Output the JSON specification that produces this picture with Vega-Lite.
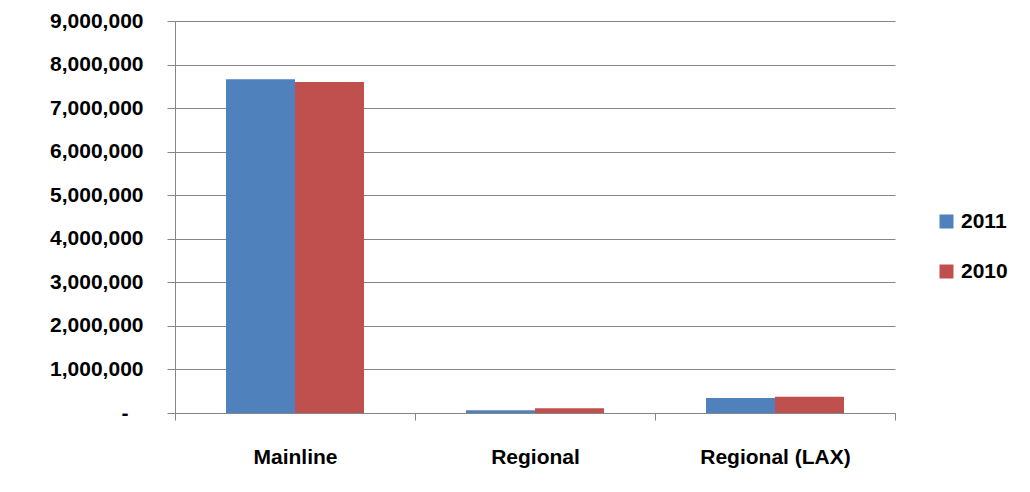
{
  "$schema": "https://vega.github.io/schema/vega-lite/v6.json",
  "autosize": {"type": "none"},
  "width": 720,
  "height": 392,
  "padding": {"left": 175, "top": 21, "right": 135, "bottom": 79},
  "background": "white",
  "data": {"values": [
    {"category": "Mainline", "year": "2011", "value": 7660000},
    {"category": "Mainline", "year": "2010", "value": 7600000},
    {"category": "Regional", "year": "2011", "value": 62000},
    {"category": "Regional", "year": "2010", "value": 108000},
    {"category": "Regional (LAX)", "year": "2011", "value": 344000},
    {"category": "Regional (LAX)", "year": "2010", "value": 374000}
  ]},
  "config": {
    "view": {"stroke": null},
    "font": "Liberation Sans",
    "axis": {"labelFont": "Liberation Sans", "labelFontWeight": "bold", "labelFontSize": 21, "labelColor": "black", "domainColor": "#868686", "tickColor": "#868686", "gridColor": "#868686", "domainWidth": 1, "tickWidth": 1, "gridWidth": 1}
  },
  "mark": {"type": "bar"},
  "encoding": {
    "x": {
      "field": "category", "type": "nominal", "sort": ["Mainline", "Regional", "Regional (LAX)"],
      "scale": {"paddingInner": 0, "paddingOuter": 0},
      "axis": {"title": null, "labelAngle": 0, "tickBand": "extent", "tickSize": 7, "labelPadding": 26, "grid": false}
    },
    "xOffset": {
      "field": "year", "type": "nominal", "sort": ["2011", "2010"],
      "scale": {"paddingInner": 0, "paddingOuter": 0.739}
    },
    "y": {
      "field": "value", "type": "quantitative",
      "scale": {"domain": [0, 9000000], "nice": false},
      "axis": {"title": null, "values": [0,1000000,2000000,3000000,4000000,5000000,6000000,7000000,8000000,9000000], "tickSize": 8, "labelPadding": 24, "grid": true, "labelExpr": "datum.value == 0 ? '-\u2800' : format(datum.value, ',')"}
    },
    "color": {
      "field": "year", "type": "nominal", "sort": ["2011", "2010"],
      "scale": {"domain": ["2011", "2010"], "range": ["#4F81BD", "#C0504D"]},
      "legend": {"title": null, "orient": "none", "legendX": 761, "legendY": 190, "symbolType": "square", "symbolSize": 196, "symbolStrokeWidth": 0, "labelFont": "Liberation Sans", "labelFontWeight": "bold", "labelFontSize": 21, "labelColor": "black", "rowPadding": 28, "labelOffset": 4}
    }
  }
}
